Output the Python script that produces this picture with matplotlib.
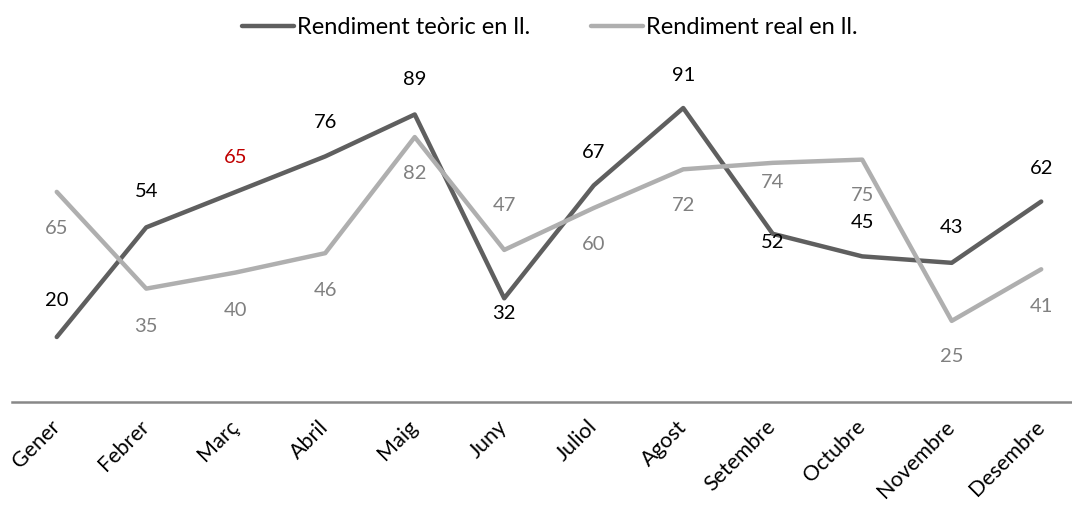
import matplotlib.pyplot as plt

months = ['Gener', 'Febrer', 'Març', 'Abril', 'Maig', 'Juny', 'Juliol',
          'Agost', 'Setembre', 'Octubre', 'Novembre', 'Desembre']
teoric = [20, 54, 65, 76, 89, 32, 67, 91, 52, 45, 43, 62]
real = [65, 35, 40, 46, 82, 47, 60, 72, 74, 75, 25, 41]

# label offsets in pixels (dx, dy)
teoric_off = [(0, 36), (0, 36), (0, 34), (0, 34), (0, 35), (0, -15), (0, 33),
              (0, 33), (0, -9), (0, 34), (0, 35), (0, 33)]
real_off = [(0, -37), (0, -38), (0, -38), (0, -37), (0, -36), (0, 44), (0, -36),
            (0, -36), (0, -20), (0, -36), (0, -36), (0, -37)]

dark = '#5f5f5f'
light = '#afafaf'

plt.rcParams['font.family'] = ['Lato', 'DejaVu Sans']

fig = plt.figure(figsize=(10.72, 5.05), dpi=100)
ax = fig.add_axes([12 / 1072, 1 - 401.5 / 505, 1060 / 1072, 322.5 / 505])

x = range(len(months))
ax.plot(x, teoric, color=dark, lw=3.2, label='Rendiment teòric en ll.', solid_capstyle='round')
ax.plot(x, real, color=light, lw=3.2, label='Rendiment real en ll.', solid_capstyle='round')

for i, v in enumerate(teoric):
    c = '#c00000' if months[i] == 'Març' else 'black'
    ax.annotate(str(v), (i, v), xytext=teoric_off[i], textcoords='offset pixels',
                ha='center', va='center', fontsize=14.5, color=c)
for i, v in enumerate(real):
    ax.annotate(str(v), (i, v), xytext=real_off[i], textcoords='offset pixels',
                ha='center', va='center', fontsize=14.5, color='#808080')

ax.set_xlim(-0.5, 11.344)
ax.set_ylim(0, 100)
ax.set_yticks([])
ax.set_xticks(list(x))
ax.set_xticklabels(months, rotation=45, ha='right', va='center', rotation_mode='anchor',
                   fontsize=15.5)
ax.tick_params(axis='x', length=0, pad=16)
for s in ['top', 'right', 'left']:
    ax.spines[s].set_visible(False)
ax.spines['bottom'].set_color('#888888')
ax.spines['bottom'].set_linewidth(1.8)

fig.legend(loc='center', bbox_to_anchor=(0.513, 1 - 28 / 505), ncol=2, frameon=False,
           fontsize=17, handlelength=2.2, handletextpad=0.1, columnspacing=2.6)

fig.savefig('out.png', dpi=100)
